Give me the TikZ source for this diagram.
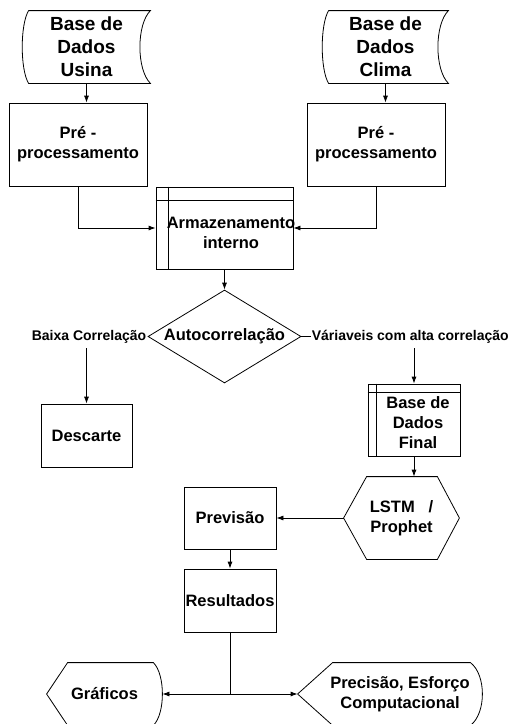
\documentclass[tikz,border=0pt]{standalone}
\usepackage{fontspec}
\setmainfont{Liberation Sans}
\usetikzlibrary{shapes.geometric,arrows.meta}

\begin{document}
\begin{tikzpicture}[x=1pt, y=-1pt, line width=0.8pt, >={Latex[length=7pt,width=5pt]},
    every node/.style={font=\bfseries\fontsize{16.5}{20}\selectfont, align=center, inner sep=0pt},
    box/.style={draw, rectangle, minimum width=92pt, minimum height=62pt},
    dbase/.style={font=\bfseries\fontsize{19}{23}\selectfont, minimum height=72pt},
    lbl/.style={font=\bfseries\fontsize{14}{17}\selectfont, inner ysep=5pt}]
  \useasboundingbox (0,0) rectangle (513,724);

  % bases de dados de entrada
  \node[dbase, minimum width=127pt] (usina) at (86.5,47) {Base de\\Dados\\Usina};
  \node[dbase, minimum width=125pt] (clima) at (385.5,47) {Base de\\Dados\\Clima};
  \foreach \db in {usina,clima} {
    \draw ([xshift=6pt]\db.north west) -- (\db.north east)
      .. controls ([xshift=-14pt,yshift=-14pt]\db.north east) and ([xshift=-14pt,yshift=14pt]\db.south east) .. (\db.south east)
      -- ([xshift=6pt]\db.south west)
      .. controls ([xshift=-2.5pt,yshift=14pt]\db.south west) and ([xshift=-2.5pt,yshift=-14pt]\db.north west) .. ([xshift=6pt]\db.north west);
  }

  \node[box, minimum width=138pt, minimum height=83pt] (pre1) at (78,144.5) {Pré -\\processamento};
  \node[box, minimum width=138pt, minimum height=83pt] (pre2) at (376,144.5) {Pré -\\processamento};
  \draw[->] (usina.south) -- (usina.south |- pre1.north);
  \draw[->] (clima.south) -- (clima.south |- pre2.north);

  % armazenamento interno
  \node[box, minimum width=137pt, minimum height=82pt] (arm) at (224.5,228) {};
  \draw ([xshift=13pt]arm.north west) -- ([xshift=13pt]arm.south west);
  \draw ([yshift=-14pt]arm.north west) -- ([yshift=-14pt]arm.north east);
  \node (armtxt) at (231,233) {Armazenamento\\interno};
  \draw[->] (pre1.south) |- (arm.west);
  \draw[->] (pre2.south) |- (arm.east);

  % autocorrelacao
  \node[draw, diamond, aspect=1.65, minimum width=153pt, minimum height=93pt] (auto) at (224.5,336.5) {Autocorrelação};
  \draw[->] (arm.south) -- (auto.north);
  \node[lbl, anchor=east, inner xsep=1pt] (baixa) at (auto.west) {Baixa Correlação};
  \node[lbl, anchor=west] (alta) at ([xshift=10pt]auto.east) {Váriaveis com alta correlação};
  \draw (auto.east) -- (alta.west);

  \node[box, minimum width=91pt, minimum height=63pt] (desc) at (86.5,435.5) {Descarte};
  \draw[->] (desc.north |- baixa.south) -- (desc.north);

  \node[box, minimum width=92pt, minimum height=72pt] (final) at (414,420) {};
  \draw ([xshift=9pt]final.north west) -- ([xshift=9pt]final.south west);
  \draw ([yshift=-9pt]final.north west) -- ([yshift=-9pt]final.north east);
  \node (finaltxt) at (418,423) {Base de\\Dados\\Final};
  \draw[->] (final.north |- alta.south) -- (final.north);

  % modelo e previsao
  \node[minimum width=115pt, minimum height=82pt] (lstm) at (401.5,518) {LSTM\ \ \ /\\Prophet};
  \draw (lstm.west) -- ([xshift=23pt]lstm.north west) -- ([xshift=-22pt]lstm.north east) -- (lstm.east)
    -- ([xshift=-22pt]lstm.south east) -- ([xshift=23pt]lstm.south west) -- cycle;
  \draw[->] (final.south) -- (final.south |- lstm.north);

  \node[box] (prev) at (230,518) {Previsão};
  \node[box, minimum height=63pt] (res) at (230,600.5) {Resultados};
  \draw[->] (lstm.west) -- (prev.east);
  \draw[->] (prev.south) -- (res.north);

  % saidas
  \node[minimum width=115pt, minimum height=62pt] (graf) at (104.5,694) {Gráficos};
  \draw (graf.west) -- ([xshift=21pt]graf.north west) -- ([xshift=-9pt]graf.north east)
    .. controls ([xshift=3pt,yshift=-12pt]graf.north east) and ([xshift=3pt,yshift=12pt]graf.south east) .. ([xshift=-9pt]graf.south east)
    -- ([xshift=21pt]graf.south west) -- cycle;
  \node[minimum width=164pt, minimum height=62pt] (prec) at (400,694) {Precisão, Esforço\\Computacional};
  \draw ([xshift=-20pt]prec.west) -- ([xshift=15pt]prec.north west) -- ([xshift=-12pt]prec.north east)
    .. controls ([xshift=4pt,yshift=-12pt]prec.north east) and ([xshift=4pt,yshift=12pt]prec.south east) .. ([xshift=-12pt]prec.south east)
    -- ([xshift=15pt]prec.south west) -- cycle;

  \coordinate (split) at (res.south |- graf.east);
  \draw (res.south) -- (split);
  \draw[->] (split) -- (graf.east);
  \draw[->] (split) -- ([xshift=-20pt]prec.west);
\end{tikzpicture}
\end{document}
